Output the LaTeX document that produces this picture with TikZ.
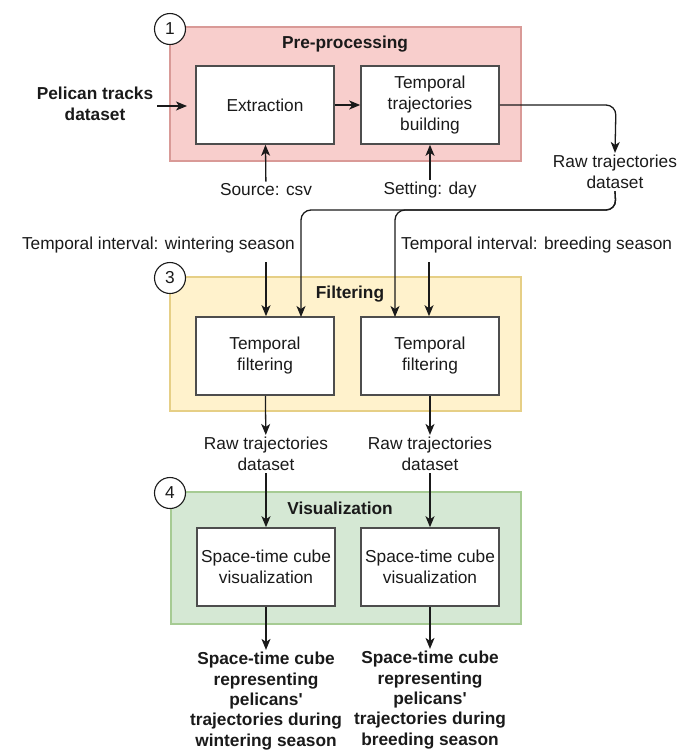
\documentclass[tikz,border=0pt]{standalone}
\usepackage{fontspec}
\setmainfont{Liberation Sans}[Ligatures=TeXOff]
\usetikzlibrary{arrows.meta}

\definecolor{preFill}{HTML}{F8CECC}
\definecolor{preLine}{HTML}{D99A97}
\definecolor{filFill}{HTML}{FFF2CC}
\definecolor{filLine}{HTML}{E6CF86}
\definecolor{visFill}{HTML}{D5E8D4}
\definecolor{visLine}{HTML}{A6CB93}
\definecolor{boxLine}{HTML}{4D4D4D}
\definecolor{ink}{HTML}{1A1A1A}

\tikzset{
  txt/.style={font=\fontsize{17.3}{21}\selectfont, text=ink, align=center, inner sep=2pt},
  btxt/.style={txt, font=\fontsize{17.3}{20.4}\selectfont\bfseries},
  stage/.style={draw, line width=1.3pt},
  procbox/.style={draw=boxLine, line width=1.6pt, fill=white, minimum width=138pt,
    minimum height=78pt, txt},
  badge/.style={circle, draw=ink, line width=1.1pt, fill=white, minimum size=31pt,
    inner sep=0pt, txt},
  arr/.style={draw=ink, line width=1.3pt, -{Stealth[length=11pt,width=9pt,inset=3pt]}},
  link/.style={arr, rounded corners=10pt}
}

\begin{document}
\begin{tikzpicture}[x=1pt,y=-1pt]
\useasboundingbox (0,0) rectangle (681,753);

% stage panels
\draw[stage, draw=preLine, fill=preFill] (170,27) rectangle (521,161);
\draw[stage, draw=filLine, fill=filFill] (170,277) rectangle (521,411);
\draw[stage, draw=visLine, fill=visFill] (171,492) rectangle (521,624);

\node[btxt] (lpre) at (345,44) {Pre-processing};
\node[btxt] (lfil) at (350,294) {Filtering};
\node[btxt] (lvis) at (340,508) {Visualization};

\node[badge] (b1) at (170,29) {1};
\node[badge] (b3) at (170,278) {3};
\node[badge] (b4) at (170,493) {4};

% processing steps
\node[procbox] (ext) at (265,105) {Extraction};
\node[procbox] (ttb) at (430,105) {Temporal\\trajectories\\building};
\node[procbox] (tf1) at (265,356) {Temporal\\filtering};
\node[procbox] (tf2) at (430,356) {Temporal\\filtering};
\node[procbox] (sc1) at (266,567) {Space-time cube\\visualization};
\node[procbox] (sc2) at (430,567) {Space-time cube\\visualization};

% inputs, parameters and outputs
\node[btxt] (pel) at (95,104) {Pelican tracks\\dataset};
\node[txt] (src) at (266,190) {Source: csv};
\node[txt] (set) at (430,190) {Setting: day};
\node[txt] (raw) at (615,172) {Raw trajectories\\dataset};
\node[txt, anchor=east] (wint) at (297,245) {Temporal interval: wintering season};
\node[txt, anchor=west] (breed) at (399,245) {Temporal interval: breeding season};
\node[txt] (rt1) at (266,454) {Raw trajectories\\dataset};
\node[txt] (rt2) at (430,454) {Raw trajectories\\dataset};
\node[btxt] (out1) at (266,701) {Space-time cube\\representing\\pelicans'\\trajectories during\\wintering season};
\node[btxt] (out2) at (430,700) {Space-time cube\\representing\\pelicans'\\trajectories during\\breeding season};

\coordinate (pin) at (187,106);
\coordinate (wintTop) at (266,262);
\coordinate (breedTop) at (429,262);

% connectors
\draw[arr] (pel.east |- pin) ++(2,0) -- (pin);
\draw[arr] (ext) -- (ttb);
\draw[arr] (src) -- (ext);
\draw[arr] (set) -- (ttb);
\draw[link] (ttb.east) -- (616,105) -- (raw.north);
\draw[link] (raw.south) -- (616,210) -- (301,210) -- (301,317);
\draw[link] (raw.south) -- (616,210) -- (395,210) -- (395,317);
\draw[arr] (wintTop) -- (wintTop |- tf1.north);
\draw[arr] (breedTop) -- (breedTop |- tf2.north);
\draw[arr] (tf1) -- (rt1);
\draw[arr] (tf2) -- (rt2);
\draw[arr] (rt1) -- (sc1);
\draw[arr] (rt2) -- (sc2);
\draw[arr] (sc1) -- (out1);
\draw[arr] (sc2) -- (out2);
\end{tikzpicture}
\end{document}
